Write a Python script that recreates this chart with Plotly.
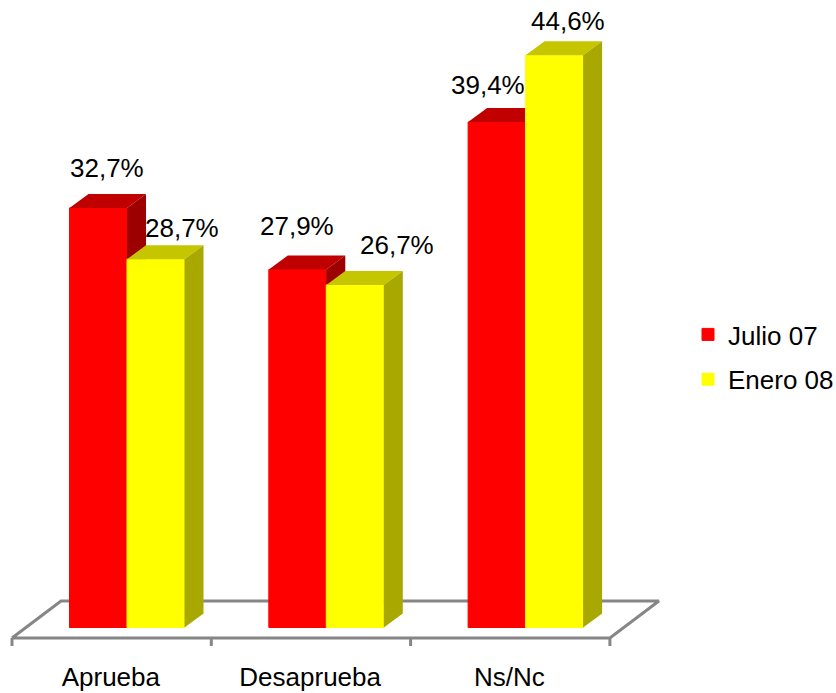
import plotly.graph_objects as go

categories = ["Aprueba", "Desaprueba", "Ns/Nc"]
julio_07 = [32.7, 27.9, 39.4]
enero_08 = [28.7, 26.7, 44.6]
series_names = ["Julio 07", "Enero 08"]

W, H = 836, 693
PLOT_BOTTOM = 650
X_ORIGIN, X_STEP = 127.0, 199.3      # px of category 0 bar-pair centre, px per category
Y_ZERO, Y_SCALE = 627.5, 12.83       # px of value 0, px per unit
BAR_W = 57.5 / X_STEP
DX, DY = 19 / X_STEP, 14 / Y_SCALE   # 3D depth in axis units

x_range = [-X_ORIGIN / X_STEP, (W - X_ORIGIN) / X_STEP]
y_range = [(Y_ZERO - PLOT_BOTTOM) / Y_SCALE, Y_ZERO / Y_SCALE]

RED, RED_TOP, RED_SIDE = "#FF0000", "#C00000", "#9C0000"
YEL, YEL_TOP, YEL_SIDE = "#FFFF00", "#C6C600", "#A8A800"
FLOOR = "#868686"
FONT = "Liberation Sans, Arial, sans-serif"


def faces(values, offset):
    """Top and side polygons of each 3D bar, from the values."""
    tx, ty, sx, sy = [], [], [], []
    for i, v in enumerate(values):
        xl = i + offset
        xr = xl + BAR_W
        tx += [xl, xl + DX, xr + DX, xr, xl, None]
        ty += [v, v + DY, v + DY, v, v, None]
        sx += [xr, xr + DX, xr + DX, xr, xr, None]
        sy += [0, DY, v + DY, v, 0, None]
    return tx, ty, sx, sy


def poly(x, y, color, axes):
    return go.Scatter(x=x, y=y, mode="lines", fill="toself", fillcolor=color,
                      line=dict(width=0, color=color), hoverinfo="skip",
                      showlegend=False, xaxis=axes[0], yaxis=axes[1])


fig = go.Figure()

# Floor
edges = [i - 0.577 for i in range(len(categories) + 1)]
front_y = (Y_ZERO - 638) / Y_SCALE
back_y = (Y_ZERO - 601) / Y_SCALE
tick_y = (Y_ZERO - 646) / Y_SCALE
floor_dx = 49 / X_STEP
fx = [edges[0], edges[-1], edges[-1] + floor_dx, edges[0] + floor_dx, edges[0], None]
fy = [front_y, front_y, back_y, back_y, front_y, None]
for e in edges:
    fx += [e, e, None]
    fy += [front_y, tick_y, None]
fig.add_trace(go.Scatter(x=fx, y=fy, mode="lines", line=dict(color=FLOOR, width=3),
                         hoverinfo="skip", showlegend=False))

# Julio 07 bars on the second overlay
fig.add_trace(go.Bar(x=list(range(3)), y=julio_07, width=BAR_W, offset=-BAR_W, name=series_names[0],
                     marker=dict(color=RED, line=dict(color=RED, width=1)),
                     legendgroup="a", xaxis="x2", yaxis="y2", hoverinfo="skip"))
tx, ty, sx, sy = faces(julio_07, -BAR_W)
fig.add_trace(poly(tx, ty, RED_TOP, ("x2", "y2")))
fig.add_trace(poly(sx, sy, RED_SIDE, ("x2", "y2")))

# Enero 08 bars on the third overlay
fig.add_trace(go.Bar(x=list(range(3)), y=enero_08, width=BAR_W, offset=0, name=series_names[1],
                     marker=dict(color=YEL, line=dict(color=YEL, width=1)),
                     legendgroup="b", xaxis="x3", yaxis="y3", hoverinfo="skip"))
tx, ty, sx, sy = faces(enero_08, 0)
fig.add_trace(poly(tx, ty, YEL_TOP, ("x3", "y3")))
fig.add_trace(poly(sx, sy, YEL_SIDE, ("x3", "y3")))

# Value labels, placed by hand as in the reference: (xshift, yshift) in px from bar-top centre
label_shifts_j = [(9, 40), (-1, 44), (-9, 37)]
label_shifts_e = [(26, 31), (42, 40), (14, 34)]
for vals, off, shifts in [(julio_07, -BAR_W / 2, label_shifts_j), (enero_08, BAR_W / 2, label_shifts_e)]:
    for i, (v, s) in enumerate(zip(vals, shifts)):
        fig.add_annotation(x=i + off, y=v, xref="x3", yref="y3", text=f"{v:.1f}%".replace(".", ","),
                           showarrow=False, xshift=s[0], yshift=s[1],
                           font=dict(family=FONT, size=26, color="#000000"))

hidden = dict(visible=False, fixedrange=True)
fig.update_layout(
    width=W, height=H, autosize=False,
    paper_bgcolor="white", plot_bgcolor="rgba(0,0,0,0)",
    margin=dict(l=0, r=0, t=0, b=H - PLOT_BOTTOM, pad=0, autoexpand=False),
    font=dict(family=FONT, size=26, color="#000000"),
    xaxis=dict(range=x_range, tickmode="array", tickvals=[(edges[i] + edges[i + 1]) / 2 - 0.004 for i in range(3)],
               ticktext=categories, showgrid=False, zeroline=False, showline=False, ticks="",
               ticklabelstandoff=9, tickfont=dict(family=FONT, size=26, color="#000000"), fixedrange=True),
    yaxis=dict(range=y_range, visible=False, fixedrange=True),
    xaxis2=dict(range=x_range, overlaying="x", **hidden),
    yaxis2=dict(range=y_range, overlaying="y", **hidden),
    xaxis3=dict(range=x_range, overlaying="x", **hidden),
    yaxis3=dict(range=y_range, overlaying="y", **hidden),
    legend=dict(x=688 / W, xanchor="left", y=1 - 357 / PLOT_BOTTOM, yanchor="middle",
                entrywidth=106, entrywidthmode="pixels",
                font=dict(family=FONT, size=26, color="#000000"), tracegroupgap=8,
                bgcolor="rgba(0,0,0,0)", borderwidth=0),
    showlegend=True,
)

fig.write_html("out.html", config={"displayModeBar": False},
               post_script="document.body.style.margin='0';document.documentElement.style.overflow='hidden';")
